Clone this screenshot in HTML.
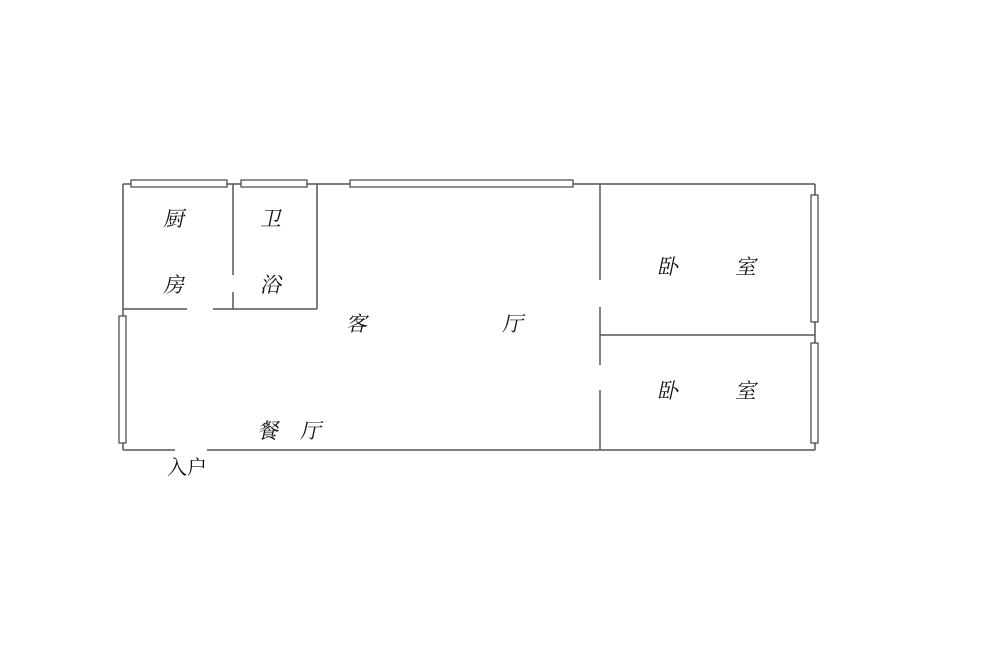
<!DOCTYPE html>
<html><head><meta charset="utf-8"><style>
html,body{margin:0;padding:0;background:#fff;}
svg{display:block;}
.t{font-family:"Liberation Serif","Noto Serif CJK SC","Noto Sans CJK SC",serif;font-size:21px;fill:#111;}
</style></head><body>
<svg width="1000" height="666" viewBox="0 0 1000 666" xmlns="http://www.w3.org/2000/svg">
<g stroke="#555" stroke-width="1.5" fill="none">
<!-- outer walls -->
<line x1="123" y1="184" x2="815" y2="184"/>
<line x1="123" y1="184" x2="123" y2="450"/>
<line x1="815" y1="184" x2="815" y2="450"/>
<line x1="123" y1="450" x2="175" y2="450"/>
<line x1="207" y1="450" x2="815" y2="450"/>
<!-- kitchen/bath -->
<line x1="233" y1="184" x2="233" y2="275"/>
<line x1="233" y1="292" x2="233" y2="309"/>
<line x1="317" y1="184" x2="317" y2="309"/>
<line x1="123" y1="309" x2="187" y2="309"/>
<line x1="213" y1="309" x2="317" y2="309"/>
<!-- bedrooms -->
<line x1="600" y1="184" x2="600" y2="280"/>
<line x1="600" y1="307" x2="600" y2="365"/>
<line x1="600" y1="390" x2="600" y2="450"/>
<line x1="600" y1="335" x2="815" y2="335"/>
</g>
<g stroke="#444" stroke-width="1.2" fill="#fff">
<rect x="131" y="180" width="96" height="7"/>
<rect x="241" y="180" width="66" height="7"/>
<rect x="350" y="180" width="223" height="7"/>
<rect x="811" y="195" width="7" height="127"/>
<rect x="811" y="343" width="7" height="100"/>
<rect x="119" y="316" width="7" height="127"/>
</g>
<g class="t" transform="">
<text x="0" y="0" transform="translate(163,226) skewX(-12)" class="t">厨</text>
<text transform="translate(163,292) skewX(-12)" class="t">房</text>
<text transform="translate(260,226) skewX(-12)" class="t">卫</text>
<text transform="translate(260,292) skewX(-12)" class="t">浴</text>
<text transform="translate(346,331) skewX(-12)" class="t">客</text>
<text transform="translate(502,331) skewX(-12)" class="t">厅</text>
<text transform="translate(657,274) skewX(-12)" class="t">卧</text>
<text transform="translate(735,274) skewX(-12)" class="t">室</text>
<text transform="translate(657,398) skewX(-12)" class="t">卧</text>
<text transform="translate(735,398) skewX(-12)" class="t">室</text>
<text transform="translate(257,438) skewX(-12)" class="t">餐</text>
<text transform="translate(300,438) skewX(-12)" class="t">厅</text>
<text x="167" y="474" class="t" style="font-size:20px">入户</text>
</g>
</svg>
</body></html>
